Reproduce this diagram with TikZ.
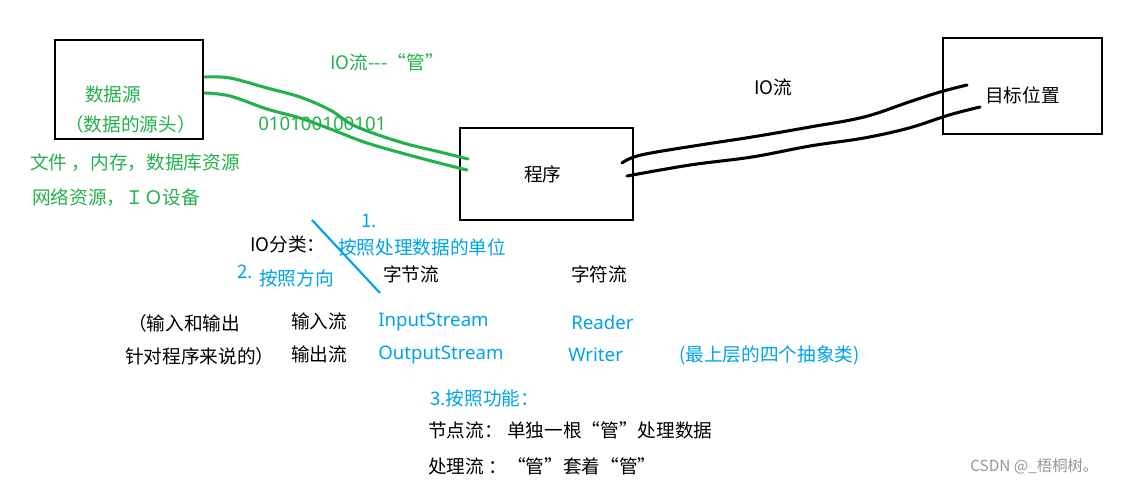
\documentclass[tikz,border=0pt]{standalone}
\usepackage{fontspec}
\setmainfont{Noto Sans CJK SC}
\newfontfamily\latinfont{Noto Sans}
\definecolor{pgreen}{RGB}{34,177,76}
\definecolor{pblue}{RGB}{0,162,232}
\definecolor{pgrey}{RGB}{150,150,150}
\begin{document}
\begin{tikzpicture}[x=0.75pt,y=-0.75pt,
  box/.style={draw, line width=2.2pt, inner sep=0pt},
  txt/.style={anchor=west, inner sep=0pt, font=\fontsize{14}{16}\selectfont},
  gtxt/.style={txt, text=pgreen},
  btxt/.style={txt, text=pblue},
  pipeg/.style={draw=pgreen, line width=2.3pt, line cap=round, smooth, tension=0.6},
  pipek/.style={draw=black, line width=2.3pt, line cap=round, smooth, tension=0.6}]
\useasboundingbox (0,0) rectangle (1131,486);
% boxes
\node[box, minimum width=111pt, minimum height=74.25pt] (src) at (129,89.5) {};
\node[box, minimum width=129.75pt, minimum height=69pt] (prog) at (546.5,174) {};
\node[box, minimum width=119.25pt, minimum height=72pt] (dst) at (1022.5,86) {};
% texts in boxes
\node[gtxt] (t1) at (85,94) {数据源};
\node[gtxt] (t2) at (65,124) {（数据的源头）};
\node[txt] (t3) at (985,95) {目标位置};
\node[txt] (t4) at (524,174) {程序};
% pipe end coordinates
\coordinate (g1s) at (205,77);
\coordinate (g1e) at (468,159);
\coordinate (g2s) at (205,93);
\coordinate (g2e) at (467,170);
\coordinate (k1s) at (622,163);
\coordinate (k1e) at (967,85);
\coordinate (k2s) at (627,176);
\coordinate (k2e) at (980,107);
% green pipe
\draw[pipeg] plot coordinates {(g1s) (230,78) (267,88) (300,97) (330,110) (355,126) (400,142) (440,152) (g1e)};
\draw[pipeg] plot coordinates {(g2s) (230,96) (267,109) (300,118) (333,130) (367,143) (420,158) (g2e)};
% black pipe
\draw[pipek] plot coordinates {(k1s) (641,155) (700,145) (752,137) (810,127) (864,117) (909,102) (940,92) (k1e)};
\draw[pipek] plot coordinates {(k2s) (690,165) (752,157) (810,146) (864,138) (909,128) (949,115) (k2e)};
% labels
\node[gtxt] (io1) at (330,62) {IO流{-}{-}{-}“管”};
\node[gtxt, font=\fontsize{14}{16}\selectfont\latinfont] (bits) at (258,124) {010100100101};
\node[gtxt] (res1) at (30,163) {文件 ，内存，数据库资源};
\node[gtxt] (res2) at (32,198) {网络资源，ＩＯ设备};
\node[txt] (io2) at (754,87) {IO流};
% classification
\coordinate (sl1) at (312,220);
\coordinate (sl2) at (380,293);
\draw[draw=pblue, line width=1.6pt] (sl1) -- (sl2);
\node[btxt] (n1) at (361,221) {1.};
\node[txt] (cls) at (250,244) {IO分类：};
\node[btxt] (unit) at (338,247) {按照处理数据的单位};
\node[btxt] (n2) at (237,272) {2.};
\node[btxt] (dir) at (259,278) {按照方向};
\node[txt] (byte) at (383,274) {字节流};
\node[txt] (char) at (571,274) {字符流};
\node[txt] (io3) at (128,323) {（输入和输出};
\node[txt] (io4) at (125,356) {针对程序来说的）};
\node[txt] (in) at (291,321) {输入流};
\node[txt] (out) at (291,354) {输出流};
\node[btxt, font=\fontsize{14}{16}\selectfont\latinfont] (is) at (378,322) {InputStream};
\node[btxt, font=\fontsize{14}{16}\selectfont\latinfont] (os) at (378,355) {OutputStream};
\node[btxt, font=\fontsize{14}{16}\selectfont\latinfont] (rd) at (571,322) {Reader};
\node[btxt, font=\fontsize{14}{16}\selectfont\latinfont] (wr) at (568,355) {Writer};
\node[btxt] (abs) at (679,355) {(最上层的四个抽象类)};
\node[btxt] (fn) at (430,398) {3.按照功能：};
\node[txt] (node) at (428,430) {节点流： 单独一根“管”处理数据};
\node[txt] (proc) at (428,466) {处理流 ：“管”套着“管”};
\node[txt, text=pgrey, font=\fontsize{11.5}{14}\selectfont] (wm) at (970,466) {CSDN @\_梧桐树。};
\end{tikzpicture}
\end{document}
